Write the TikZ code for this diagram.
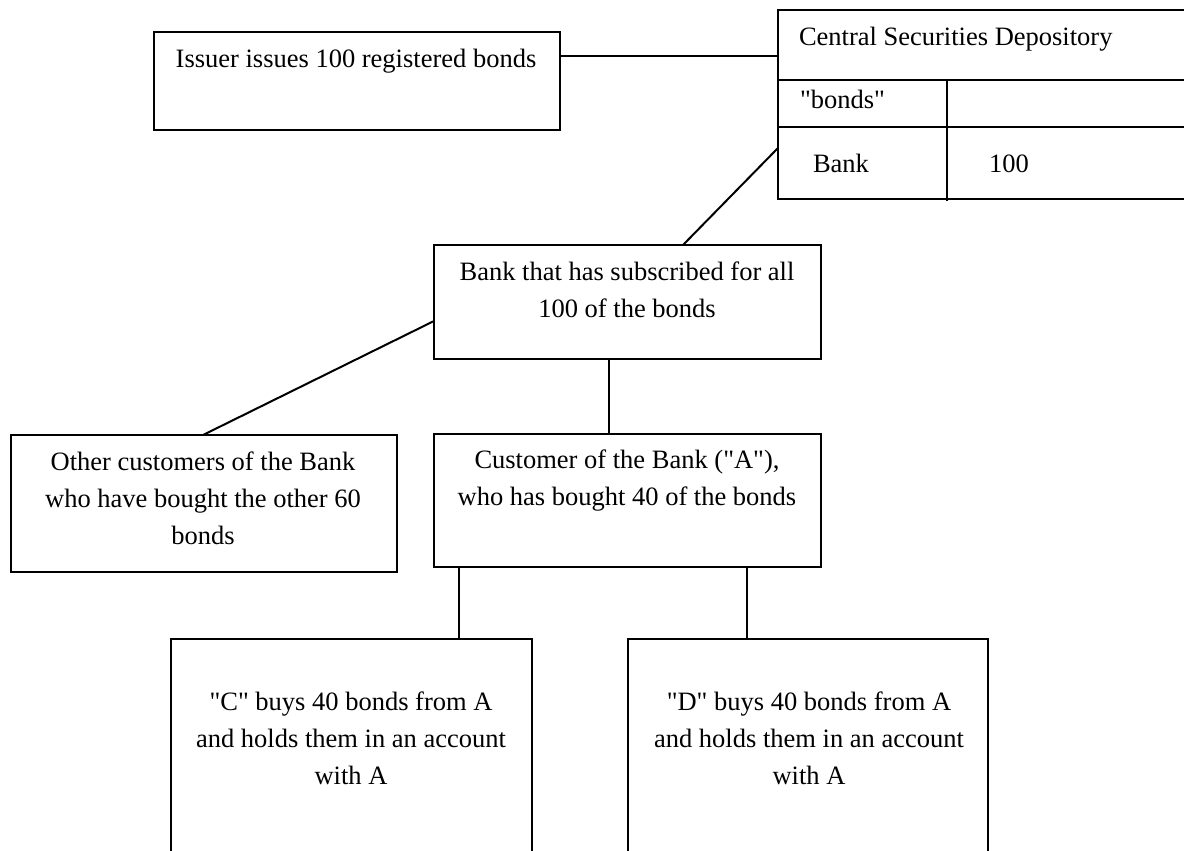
\documentclass[tikz,border=0pt]{standalone}
\usepackage{fontspec}
\setmainfont{Liberation Serif}
\usetikzlibrary{fit}
% centred lines whose first baseline is the node's base
\newcommand\boxlines[1]{\begin{tabular}[t]{@{}c@{}}#1\end{tabular}}
\begin{document}
\begin{tikzpicture}[x=0.5pt,y=-0.5pt,
  box/.style={draw, line width=1pt, rectangle, inner sep=0pt, outer sep=0pt},
  link/.style={line width=1pt},
  txt/.style={font=\fontsize{13.25}{18.5}\selectfont, inner sep=0pt, outer sep=0pt},
  para/.style={txt, anchor=base}]
\clip (0,0) rectangle (1184,851);

% boxes
\node[box, fit={(154,32) (560,130)}] (issuer) {};
\node[box, fit={(778,10) (1200,199)}] (csd) {};
\node[box, fit={(434,245) (821,359)}] (bank) {};
\node[box, fit={(11,435) (397,572)}] (others) {};
\node[box, fit={(434,434) (821,567)}] (custA) {};
\node[box, fit={(171,639) (532,880)}] (custC) {};
\node[box, fit={(628,639) (988,880)}] (custD) {};

% register rows inside the depository
\draw[link] (778,80) -- (1200,80);
\draw[link] (778,127) -- (1200,127);
\draw[link] (947,80) -- (947,201);

% texts
\node[txt, anchor=base] (issuertxt) at (356,67) {Issuer issues 100 registered bonds};
\node[txt, anchor=base west] (csdtxt) at (799,46) {Central Securities Depository};
\node[txt, anchor=base west] (bondstxt) at (800,108) {\textquotedbl bonds\textquotedbl};
\node[txt, anchor=base west] (banktxt) at (813,172) {Bank};
\node[txt, anchor=base west] (qtytxt) at (989,172) {100};
\node[para] (banklbl) at (627,280) {\boxlines{Bank that has subscribed for all\\100 of the bonds}};
\node[para] (custAlbl) at (627,468) {\boxlines{Customer of the Bank (\textquotedbl A\textquotedbl),\\who has bought 40 of the bonds}};
\node[para] (otherslbl) at (203,470) {\boxlines{Other customers of the Bank\\who have bought the other 60\\bonds}};
\node[para] (custClbl) at (351,710) {\boxlines{\textquotedbl C\textquotedbl{} buys 40 bonds from A\\and holds them in an account\\with A}};
\node[para] (custDlbl) at (809,710) {\boxlines{\textquotedbl D\textquotedbl{} buys 40 bonds from A\\and holds them in an account\\with A}};

% connector reference levels
\coordinate (lvlA) at (0,56);
\coordinate (lvlB) at (0,148);
\coordinate (colB) at (683,0);
\coordinate (lvlC) at (0,321);
\coordinate (colC) at (203,0);
\coordinate (colD) at (609,0);
\coordinate (colE) at (459,0);
\coordinate (colF) at (747,0);

% connectors
\draw[link] (issuer.east |- lvlA) -- (csd.west |- lvlA);
\draw[link] (csd.west |- lvlB) -- (bank.north -| colB);
\draw[link] (bank.west |- lvlC) -- (others.north -| colC);
\draw[link] (bank.south -| colD) -- (custA.north -| colD);
\draw[link] (custA.south -| colE) -- (custC.north -| colE);
\draw[link] (custA.south -| colF) -- (custD.north -| colF);
\end{tikzpicture}
\end{document}
